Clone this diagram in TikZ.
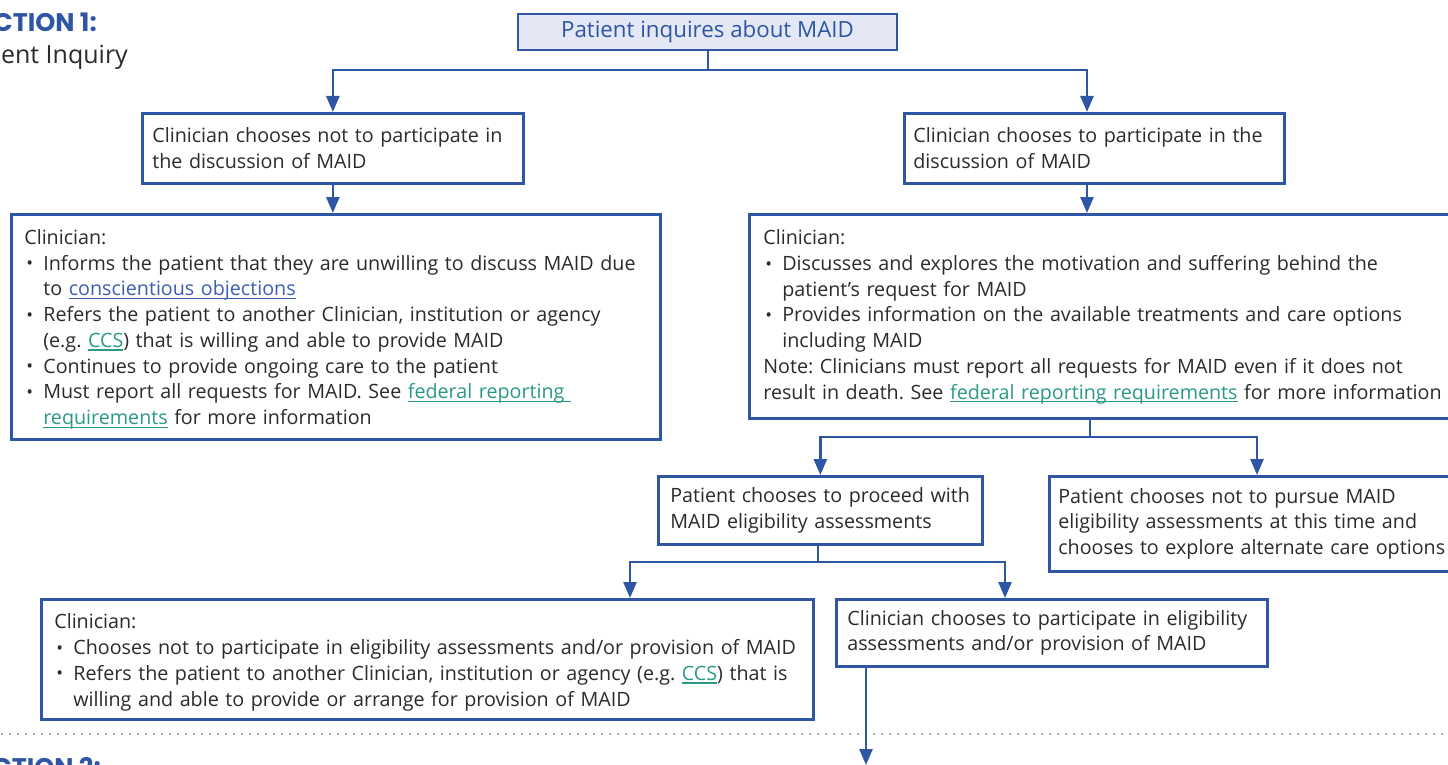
\documentclass[tikz,border=0pt]{standalone}
\usepackage{fontspec}
\setmainfont{Open Sans}
\newfontfamily\headfont{Poppins}
\usetikzlibrary{arrows.meta,calc}
\frenchspacing
\definecolor{mblue}{HTML}{2F55A5}
\definecolor{mfill}{HTML}{E4E8F4}
\definecolor{mtext}{HTML}{2B2B2B}
\definecolor{mteal}{HTML}{2A9A86}
\definecolor{mlink}{HTML}{3D5EB2}
\definecolor{mdots}{HTML}{7A7A7A}
\newcommand\lnk[2]{{\color{#1}\setbox0\hbox{#2}\rlap{\rule[-3.2pt]{\wd0}{1.1pt}}\box0}}
\newcommand\Ln[1]{\mbox{#1}}
\newcommand\bul{\makebox[19pt][l]{\hspace{2pt}\raisebox{0.5pt}{\fontsize{18}{18}\selectfont •}}}
\newcommand\ind{\hspace*{19pt}}
\tikzset{
  box/.style={draw=mblue, line width=2.7pt, fill=white, text=mtext, align=left,
    inner ysep=0pt, anchor=north west, font=\fontsize{19.7}{25.7}\selectfont},
  conn/.style={draw=mblue, line width=2.7pt},
  arr/.style={conn, -{Triangle[width=13pt,length=16pt]}},
  dotline/.style={draw=mdots, line width=2pt, line cap=round, dash pattern=on 0pt off 8pt},
}
\begin{document}
\begin{tikzpicture}[x=1pt,y=-1pt]
\useasboundingbox (0,0) rectangle (1448,765);
\clip (0,0) rectangle (1448,765);

% section labels
\node[anchor=base east, inner sep=0, text=mblue, font=\headfont\bfseries\fontsize{25.5}{25.5}\selectfont] (s1) at (97,32) {SECTION 1:};
\node[anchor=base east, inner sep=0, text=mtext, font=\fontsize{25}{25}\selectfont] (s1b) at (128,64) {Patient Inquiry};
\node[anchor=base east, inner sep=0, text=mblue, font=\headfont\bfseries\fontsize{25.5}{25.5}\selectfont] (s2) at (101,776) {SECTION 2:};

% dotted separator
\coordinate (dl) at (2,734);
\coordinate (dr) at (1448,734);
\draw[dotline] (dl) -- (dr);

% boxes
\node[box, fill=mfill, text=mblue, align=center, anchor=center, minimum width=379pt, minimum height=36pt, font=\fontsize{22.3}{26}\selectfont] (top) at (707.5,32) {Patient inquires about MAID};

\node[box, minimum width=381pt, minimum height=70pt, inner xsep=10pt, text width=361pt] (ln) at (141,112)
 {\Ln{Clinician chooses not to participate in}\\\Ln{the discussion of MAID}};

\node[box, minimum width=380pt, minimum height=70pt, inner xsep=9pt, text width=362pt] (rn) at (903,112)
 {\Ln{Clinician chooses to participate in the}\\\Ln{discussion of MAID}};

\node[box, minimum width=649pt, minimum height=225pt, inner xsep=13pt, text width=623pt] (lc) at (10,213)
 {\Ln{\rule{0pt}{20pt}Clinician:}\\
  \Ln{\bul Informs the patient that they are unwilling to discuss MAID due}\\
  \Ln{\ind to \lnk{mlink}{conscientious objections}}\\
  \Ln{\bul Refers the patient to another Clinician, institution or agency}\\
  \Ln{\ind (e.g. \lnk{mteal}{CCS}) that is willing and able to provide MAID}\\
  \Ln{\bul Continues to provide ongoing care to the patient}\\
  \Ln{\bul Must report all requests for MAID. See \lnk{mteal}{federal reporting\ }}\\
  \Ln{\ind \lnk{mteal}{requirements} for more information}};

\node[box, minimum width=722pt, minimum height=204pt, inner xsep=14pt, text width=694pt] (rc) at (748,213)
 {\Ln{\rule{0pt}{16pt}Clinician:}\\
  \Ln{\bul Discusses and explores the motivation and suffering behind the}\\
  \Ln{\ind patient’s request for MAID}\\
  \Ln{\bul Provides information on the available treatments and care options}\\
  \Ln{\ind including MAID}\\
  \Ln{Note: Clinicians must report all requests for MAID even if it does not}\\
  \Ln{result in death. See \lnk{mteal}{federal reporting requirements} for more information}};

\node[box, minimum width=324pt, minimum height=68pt, inner xsep=12pt, text width=300pt] (pp) at (657,475)
 {\Ln{Patient chooses to proceed with}\\\Ln{MAID eligibility assessments}};

\node[box, minimum width=422pt, minimum height=95pt, inner xsep=9pt, text width=404pt] (pn) at (1048,475)
 {\Ln{Patient chooses not to pursue MAID}\\\Ln{eligibility assessments at this time and}\\\Ln{chooses to explore alternate care options}};

\node[box, minimum width=772pt, minimum height=120pt, inner xsep=13pt, text width=746pt] (cl) at (40,598)
 {\Ln{\rule{0pt}{21pt}Clinician:}\\
  \Ln{\bul Chooses not to participate in eligibility assessments and/or provision of MAID}\\
  \Ln{\bul Refers the patient to another Clinician, institution or agency (e.g. \lnk{mteal}{CCS}) that is}\\
  \Ln{\ind willing and able to provide or arrange for provision of MAID}};

\node[box, minimum width=431pt, minimum height=67pt, inner xsep=11pt, text width=409pt] (cp) at (835,598)
 {\Ln{Clinician chooses to participate in eligibility}\\\Ln{assessments and/or provision of MAID}};

% connector x positions
\coordinate (x1087) at (1087,0);
\coordinate (x1257) at (1257,0);
\coordinate (x630) at (630,0);
\coordinate (x1005) at (1005,0);
\coordinate (j1) at (708,70);
\coordinate (j2) at (1090,437);
\coordinate (j3) at (818,562);
\coordinate (end) at (866,765);

\draw[conn] (top.south -| j1) -- (j1);
\draw[arr] (j1) -| (ln.north);
\draw[arr] (j1) -| (rn.north -| x1087);
\draw[arr] (ln.south) -- (ln.south |- lc.north);
\draw[arr] (rn.south -| x1087) -- (rc.north -| x1087);
\draw[conn] (rc.south -| j2) -- (j2);
\draw[arr] (j2) -| (pp.north);
\draw[arr] (j2) -| (pn.north -| x1257);
\draw[conn] (pp.south -| j3) -- (j3);
\draw[arr] (j3) -| (cl.north -| x630);
\draw[arr] (j3) -| (cp.north -| x1005);
\draw[arr] (cp.south -| end) -- (end);
\end{tikzpicture}
\end{document}
